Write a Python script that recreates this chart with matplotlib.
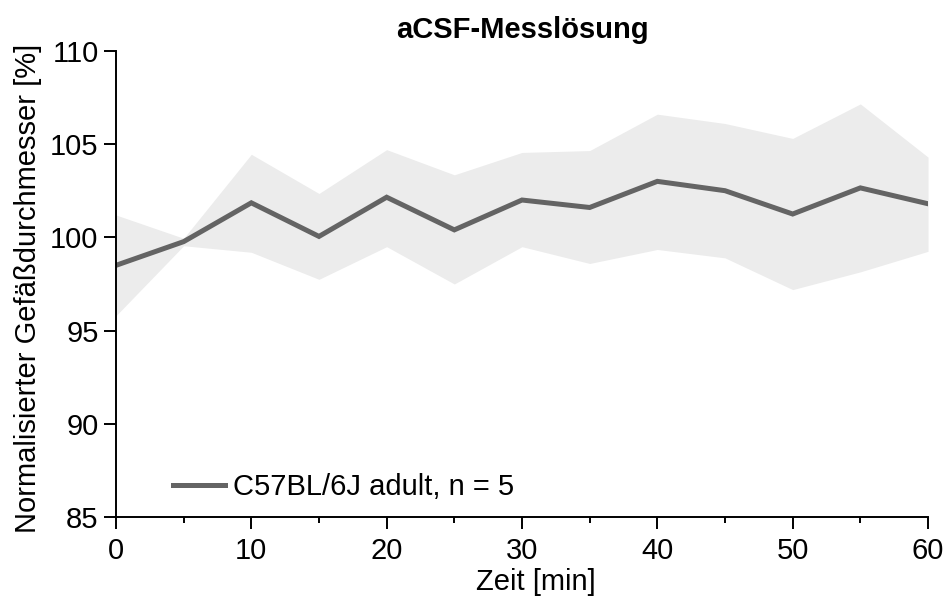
import numpy as np
import matplotlib
matplotlib.use("Agg")
import matplotlib.pyplot as plt

plt.rcParams['font.family'] = ['Liberation Sans', 'DejaVu Sans']

# Zeitpunkte und mittlerer normalisierter Durchmesser mit Streuband
zeit = [0, 5, 10, 15, 20, 25, 30, 35, 40, 45, 50, 55, 60]
mittel = [98.5, 99.77, 101.85, 100.05, 102.15, 100.4, 102.0, 101.6, 103.0, 102.5, 101.25, 102.65, 101.8]
oben = [101.2, 99.95, 104.45, 102.35, 104.7, 103.35, 104.55, 104.65, 106.6, 106.1, 105.3, 107.15, 104.3]
unten = [95.8, 99.55, 99.2, 97.75, 99.5, 97.5, 99.5, 98.6, 99.35, 98.9, 97.2, 98.15, 99.25]

fs = 21

fig = plt.figure(figsize=(9.49, 6.01), dpi=100)
ax = fig.add_axes([0.1222, 0.1393, 0.8557, 0.7763])

ax.fill_between(zeit, unten, oben, color='#ececec', linewidth=0)
ax.plot(zeit, mittel, color='#646464', linewidth=3.6, solid_joinstyle='miter',
        label='C57BL/6J adult, n = 5')

ax.set_xlim(0, 60)
ax.set_ylim(85, 110)
ax.set_xticks(np.arange(0, 61, 10))
ax.set_xticks(np.arange(5, 60, 10), minor=True)
ax.set_yticks(np.arange(85, 111, 5))

for s in ['top', 'right']:
    ax.spines[s].set_visible(False)
for s in ['left', 'bottom']:
    ax.spines[s].set_linewidth(1.4)

ax.tick_params(which='major', length=8.5, width=1.4, labelsize=fs)
ax.tick_params(axis='x', which='major', pad=6)
ax.tick_params(axis='y', which='major', pad=4)
ax.tick_params(which='minor', length=4.5, width=1.4)

ax.set_xlabel('Zeit [min]', fontsize=fs)
ax.xaxis.set_label_coords(0.517, -0.109)
ax.set_ylabel('Normalisierter Gefäßdurchmesser [%]', fontsize=fs)
ax.yaxis.set_label_coords(-0.091, 0.49)
ax.set_title('aCSF-Messlösung', fontsize=fs, fontweight='bold', pad=9)

ax.legend(loc='center left', bbox_to_anchor=(0.07, 0.065), frameon=False,
          fontsize=fs, borderpad=0, borderaxespad=0, handlelength=1.8,
          handletextpad=0.27)

fig.savefig('out.png', dpi=100)
